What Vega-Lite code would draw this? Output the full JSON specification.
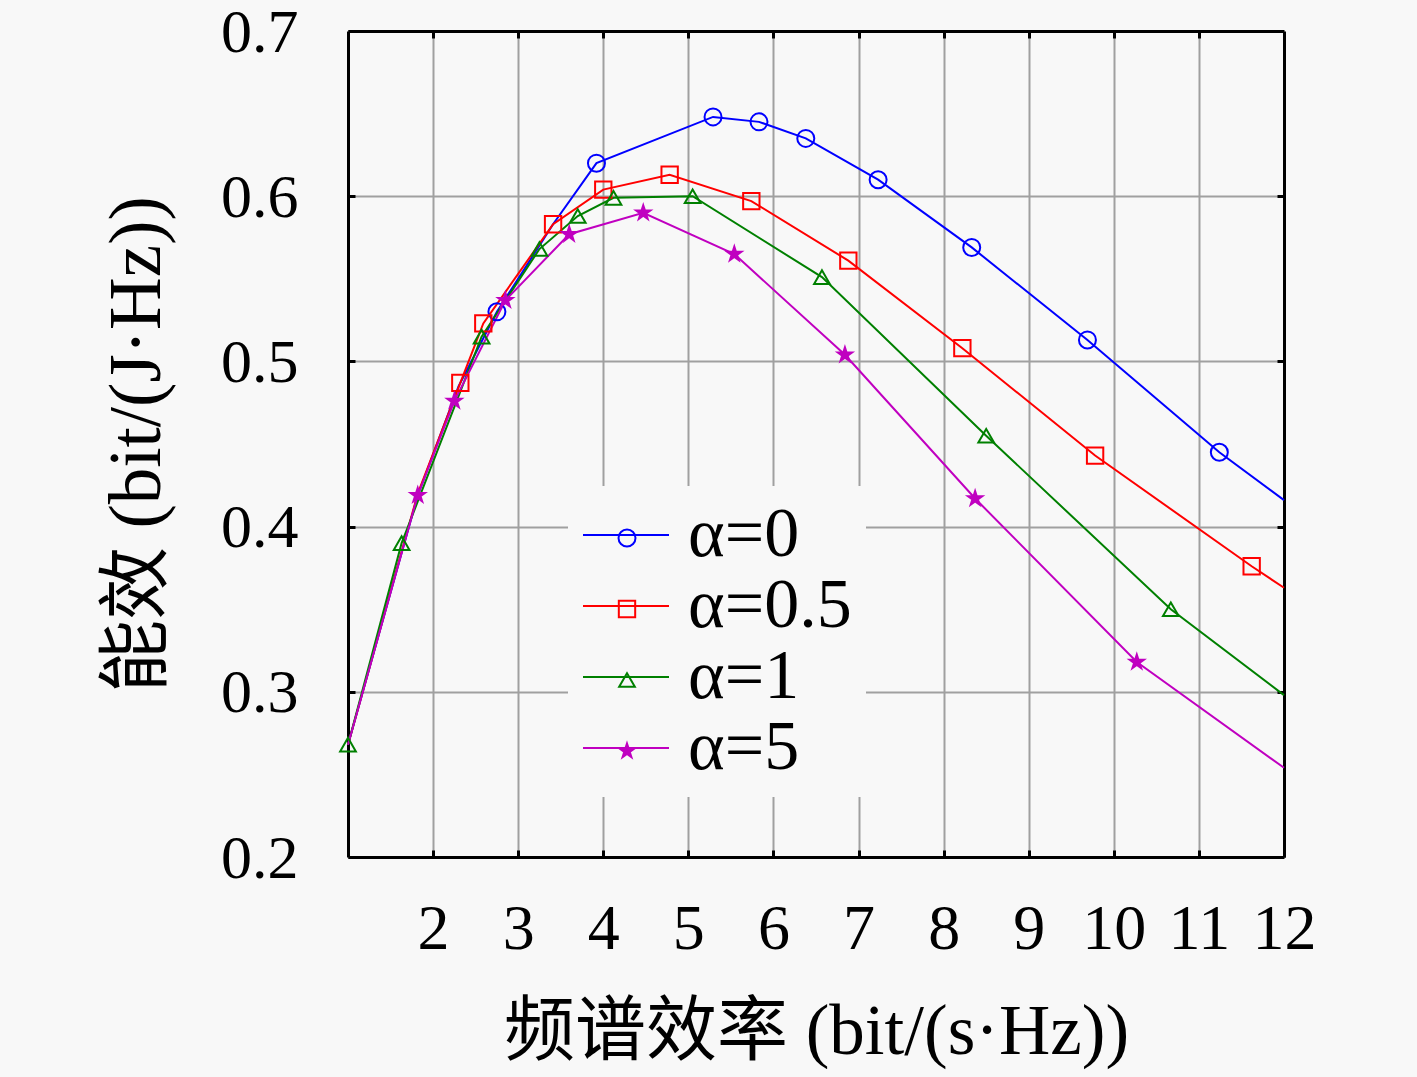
{
  "$schema": "https://vega.github.io/schema/vega-lite/v6.json",
  "width": 936,
  "height": 826,
  "autosize": {"type": "none"},
  "padding": {"left": 348, "top": 31, "right": 133, "bottom": 220},
  "background": "#f8f8f8",
  "config": {"view": {"stroke": null}, "font": "Liberation Serif"},
  "data": {
    "values": [
      {"s": "α=0", "x": 1, "y": 0.268, "m": 0},
      {"s": "α=0", "x": 1.82, "y": 0.419, "m": 0},
      {"s": "α=0", "x": 2.3, "y": 0.485, "m": 0},
      {"s": "α=0", "x": 2.75, "y": 0.53, "m": 1},
      {"s": "α=0", "x": 3.41, "y": 0.583, "m": 0},
      {"s": "α=0", "x": 3.92, "y": 0.62, "m": 1},
      {"s": "α=0", "x": 5.29, "y": 0.648, "m": 1},
      {"s": "α=0", "x": 5.83, "y": 0.645, "m": 1},
      {"s": "α=0", "x": 6.38, "y": 0.635, "m": 1},
      {"s": "α=0", "x": 7.23, "y": 0.61, "m": 1},
      {"s": "α=0", "x": 8.33, "y": 0.569, "m": 1},
      {"s": "α=0", "x": 9.69, "y": 0.513, "m": 1},
      {"s": "α=0", "x": 11.24, "y": 0.445, "m": 1},
      {"s": "α=0", "x": 12, "y": 0.416, "m": 0},
      {"s": "α=0.5", "x": 1, "y": 0.268, "m": 0},
      {"s": "α=0.5", "x": 1.82, "y": 0.42, "m": 0},
      {"s": "α=0.5", "x": 2.32, "y": 0.487, "m": 1},
      {"s": "α=0.5", "x": 2.59, "y": 0.523, "m": 1},
      {"s": "α=0.5", "x": 3.41, "y": 0.583, "m": 1},
      {"s": "α=0.5", "x": 4.0, "y": 0.604, "m": 1},
      {"s": "α=0.5", "x": 4.78, "y": 0.613, "m": 1},
      {"s": "α=0.5", "x": 5.74, "y": 0.597, "m": 1},
      {"s": "α=0.5", "x": 6.88, "y": 0.561, "m": 1},
      {"s": "α=0.5", "x": 8.22, "y": 0.508, "m": 1},
      {"s": "α=0.5", "x": 9.78, "y": 0.443, "m": 1},
      {"s": "α=0.5", "x": 11.62, "y": 0.376, "m": 1},
      {"s": "α=0.5", "x": 12, "y": 0.363, "m": 0},
      {"s": "α=1", "x": 1, "y": 0.268, "m": 1},
      {"s": "α=1", "x": 1.63, "y": 0.39, "m": 1},
      {"s": "α=1", "x": 2.57, "y": 0.515, "m": 1},
      {"s": "α=1", "x": 3.25, "y": 0.568, "m": 1},
      {"s": "α=1", "x": 3.7, "y": 0.588, "m": 1},
      {"s": "α=1", "x": 4.12, "y": 0.599, "m": 1},
      {"s": "α=1", "x": 5.05, "y": 0.6, "m": 1},
      {"s": "α=1", "x": 6.57, "y": 0.551, "m": 1},
      {"s": "α=1", "x": 8.5, "y": 0.455, "m": 1},
      {"s": "α=1", "x": 10.67, "y": 0.35, "m": 1},
      {"s": "α=1", "x": 12, "y": 0.298, "m": 0},
      {"s": "α=5", "x": 1, "y": 0.268, "m": 0},
      {"s": "α=5", "x": 1.82, "y": 0.419, "m": 1},
      {"s": "α=5", "x": 2.25, "y": 0.476, "m": 1},
      {"s": "α=5", "x": 2.85, "y": 0.537, "m": 1},
      {"s": "α=5", "x": 3.6, "y": 0.577, "m": 1},
      {"s": "α=5", "x": 4.47, "y": 0.59, "m": 1},
      {"s": "α=5", "x": 5.54, "y": 0.565, "m": 1},
      {"s": "α=5", "x": 6.84, "y": 0.504, "m": 1},
      {"s": "α=5", "x": 8.37, "y": 0.417, "m": 1},
      {"s": "α=5", "x": 10.27, "y": 0.318, "m": 1},
      {"s": "α=5", "x": 12, "y": 0.254, "m": 0}
    ]
  },
  "layer": [
    {
      "mark": {"type": "line", "strokeWidth": 2},
      "encoding": {
        "x": {
          "field": "x", "type": "quantitative",
          "scale": {"domain": [1, 12], "nice": false, "zero": false},
          "axis": {
            "orient": "bottom", "values": [2, 3, 4, 5, 6, 7, 8, 9, 10, 11, 12],
            "grid": false, "ticks": true, "tickSize": -7, "tickColor": "black", "tickWidth": 3,
            "domain": true, "domainColor": "black", "domainWidth": 3,
            "labelFont": "Liberation Serif", "labelFontSize": 64, "labelColor": "black", "labelPadding": 47,
            "labelFlush": false, "labelOverlap": false,
            "title": "频谱效率 (bit/(s·Hz))", "titleFont": "Liberation Serif, Noto Sans CJK SC",
            "titleFontSize": 71, "titleFontWeight": "normal", "titleColor": "black", "titlePadding": 36
          }
        },
        "y": {
          "field": "y", "type": "quantitative",
          "scale": {"domain": [0.2, 0.7], "nice": false, "zero": false},
          "axis": {
            "orient": "left", "values": [0.2, 0.3, 0.4, 0.5, 0.6, 0.7], "format": ".1f",
            "grid": false, "ticks": true, "tickSize": -7, "tickColor": "black", "tickWidth": 3,
            "domain": true, "domainColor": "black", "domainWidth": 3,
            "labelFont": "Liberation Serif", "labelFontSize": 62, "labelColor": "black", "labelPadding": 57,
            "labelOffset": 1, "labelFlush": false, "labelOverlap": false,
            "title": "能效 (bit/(J·Hz))", "titleFont": "Liberation Serif, Noto Sans CJK SC",
            "titleFontSize": 73, "titleFontWeight": "normal", "titleColor": "black", "titlePadding": 46
          }
        },
        "stroke": {
          "field": "s", "type": "nominal",
          "scale": {"range": ["#0000ff", "#ff0000", "#008000", "#c000c0"]},
          "legend": {
            "orient": "none", "legendX": 220, "legendY": 455, "title": null,
            "fillColor": "#f8f8f8", "padding": 14, "labelFont": "Liberation Serif", "labelFontSize": 70,
            "labelColor": "black", "labelLimit": 400, "symbolType": "stroke", "symbolSize": 7396,
            "symbolStrokeWidth": 2, "clipHeight": 70, "labelOffset": 18, "rowPadding": 1
          }
        }
      }
    },
    {
      "transform": [{"filter": "datum.m == 1"}],
      "mark": {"type": "point", "strokeWidth": 2, "opacity": 1},
      "encoding": {
        "x": {
          "field": "x", "type": "quantitative",
          "axis": {
            "orient": "top", "values": [2, 3, 4, 5, 6, 7, 8, 9, 10, 11],
            "grid": true, "gridColor": "#a0a0a0", "gridWidth": 2, "gridOpacity": 1,
            "labels": false, "ticks": true, "tickSize": -7, "tickColor": "black", "tickWidth": 3,
            "domain": true, "domainColor": "black", "domainWidth": 3, "title": null
          }
        },
        "y": {
          "field": "y", "type": "quantitative",
          "axis": {
            "orient": "right", "values": [0.3, 0.4, 0.5, 0.6],
            "grid": true, "gridColor": "#a0a0a0", "gridWidth": 2, "gridOpacity": 1,
            "labels": false, "ticks": true, "tickSize": -7, "tickColor": "black", "tickWidth": 3,
            "domain": true, "domainColor": "black", "domainWidth": 3, "title": null
          }
        },
        "color": {
          "field": "s", "type": "nominal",
          "scale": {"domain": ["α=0", "α=0.5", "α=1", "α=5"], "range": ["#0000ff", "#ff0000", "#008000", "#c000c0"]},
          "legend": {
            "orient": "none", "legendX": 220, "legendY": 455, "title": null,
            "padding": 17, "labelFont": "Liberation Serif", "labelFontSize": 70,
            "labelExpr": "''", "labelLimit": 400, "symbolStrokeWidth": 2,
            "symbolOffset": 7, "labelOffset": 0, "rowPadding": 1
          }
        },
        "shape": {
          "field": "s", "type": "nominal",
          "scale": {"domain": ["α=0", "α=0.5", "α=1", "α=5"], "range": ["circle", "square", "triangle-up", "M0,-1L0.2245,-0.309L0.951,-0.309L0.3633,0.118L0.588,0.809L0,0.382L-0.588,0.809L-0.3633,0.118L-0.951,-0.309L-0.2245,-0.309ZM0,-0.6L0.1347,-0.1854L0.5706,-0.1854L0.218,0.0708L0.3528,0.4854L0,0.2292L-0.3528,0.4854L-0.218,0.0708L-0.5706,-0.1854L-0.1347,-0.1854ZM0,-0.25L0.0561,-0.0773L0.2378,-0.0773L0.0908,0.0295L0.147,0.2023L0,0.0955L-0.147,0.2023L-0.0908,0.0295L-0.2378,-0.0773L-0.0561,-0.0773Z"]},
          "legend": {
            "orient": "none", "legendX": 220, "legendY": 455, "title": null,
            "padding": 17, "labelFont": "Liberation Serif", "labelFontSize": 70,
            "labelExpr": "''", "labelLimit": 400, "symbolStrokeWidth": 2,
            "symbolOffset": 7, "labelOffset": 0, "rowPadding": 1
          }
        },
        "size": {
          "field": "s", "type": "nominal",
          "scale": {"domain": ["α=0", "α=0.5", "α=1", "α=5"], "range": [289, 225, 380, 420]},
          "legend": null
        },
        "fill": {"condition": {"test": "datum.s === 'α=5'", "value": "#c000c0"}, "value": "transparent"}
      }
    }
  ],
  "resolve": {"axis": {"x": "independent", "y": "independent"}}
}
